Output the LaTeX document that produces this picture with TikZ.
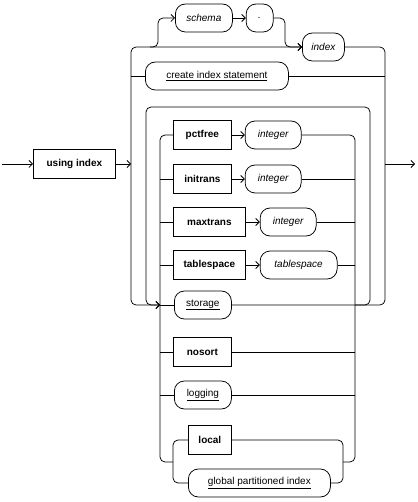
\documentclass[tikz,border=0pt]{standalone}
\usepackage{fontspec}
\setmainfont{Liberation Sans}
\usetikzlibrary{positioning,arrows.meta}

\begin{document}
\begin{tikzpicture}[
  x=1pt, y=-1pt,
  node distance=13pt,
  line width=0.75pt,
  every node/.style={font=\fontsize{10}{12}\selectfont},
  kw/.style={
    draw,
    anchor=west,
    minimum height=29pt,
    font=\fontsize{10}{12}\selectfont\bfseries
  },
  ph/.style={
    draw,
    rounded corners=10pt,
    minimum height=28pt,
    font=\fontsize{10}{12}\selectfont\itshape
  },
  sub/.style={draw, rounded corners=10pt, minimum height=28pt},
  line/.style={rounded corners=5pt},
  arrow/.style={line, -{Straight Barb[length=3.5pt,width=7pt]}}
]
\useasboundingbox (0,0) rectangle (417,502);

% main line
\node[kw, minimum width=82pt] (using) at (33,164) {using index};
\coordinate (entry) at (2,164);
\coordinate (railA) at (131,164);
\coordinate (railZ) at (385,164);
\coordinate (exit) at (415,164);

% index or create index statement
\node[ph, minimum width=57pt, anchor=west] (schema) at (175,18) {schema};
\node[ph, minimum width=27pt, right=13pt of schema] (dot) {.};
\node[ph, minimum width=42pt, anchor=west] (index) at (302,47) {index};
\node[sub, minimum width=143pt, anchor=west] (create) at (145,76) {\underline{create index statement}};

% index attributes
\node[kw, minimum width=58pt] (pctfree) at (173,135) {pctfree};
\node[ph, minimum width=56pt, right=13pt of pctfree] (intpct) {integer};
\node[kw, minimum width=58pt] (initrans) at (173,179) {initrans};
\node[ph, minimum width=56pt, right=13pt of initrans] (intini) {integer};
\node[kw, minimum width=72pt] (maxtrans) at (173,222) {maxtrans};
\node[ph, minimum width=56pt, right=14pt of maxtrans] (intmax) {integer};
\node[kw, minimum width=72pt] (tblspc) at (173,265) {tablespace};
\node[ph, minimum width=77pt, right=14pt of tblspc] (tsname) {tablespace};
\node[sub, minimum width=57pt, anchor=west] (storage) at (174,305) {\underline{storage}};
\node[kw, minimum width=58pt] (nosort) at (173,352) {nosort};
\node[sub, minimum width=57pt, anchor=west] (logging) at (174,395) {\underline{logging}};
\node[kw, minimum width=43pt] (local) at (188,440) {local};
\node[sub, minimum width=142pt, anchor=west] (global) at (188,483) {\underline{global partitioned index}};

\coordinate (stin) at (160,305);
\coordinate (itemR) at (355,462);

\draw[arrow] (entry) -- (using);
\draw[arrow] (using) -- (railA);
\draw[arrow] (railZ) -- (exit);

% outer rails
\draw[arrow] (railA) |- (index.west);
\draw[arrow] (railA) |- (stin);
\draw[line] (storage.east) -| (385,47) -- (index.east);
\draw[arrow] (150,47) -| (158,18) -- (schema.west);
\draw[arrow] (schema) -- (dot);
\draw[arrow] (dot.east) -| (285,47) -- (index.west);
\draw[line] (create.west -| railA) -- (create.west);
\draw[line] (create.east) -- (create.east -| railZ);

% loop back
\draw[arrow] (355,305) -| (370,107) -| (146,305) -- (stin);

% inner rails
\draw[line] (173,462) -| (160,135) -- (pctfree.west);
\draw[line] (intpct.east) -| (itemR) -- (343,462);
\draw[line] (stin) -- (storage.west);
\foreach \a/\b in {pctfree/intpct,initrans/intini,maxtrans/intmax,tblspc/tsname}
  \draw[arrow] (\a) -- (\b);
\foreach \n in {initrans,maxtrans,tblspc,nosort,logging}
  \draw[line] (\n.west -| stin) -- (\n.west);
\foreach \n in {intini,intmax,tsname,nosort,logging}
  \draw[line] (\n.east) -- (\n.east -| itemR);

% local or global
\draw[line] (local.west) -| (173,462) |- (global.west);
\draw[line] (local.east) -| (343,462) |- (global.east);
\end{tikzpicture}
\end{document}
